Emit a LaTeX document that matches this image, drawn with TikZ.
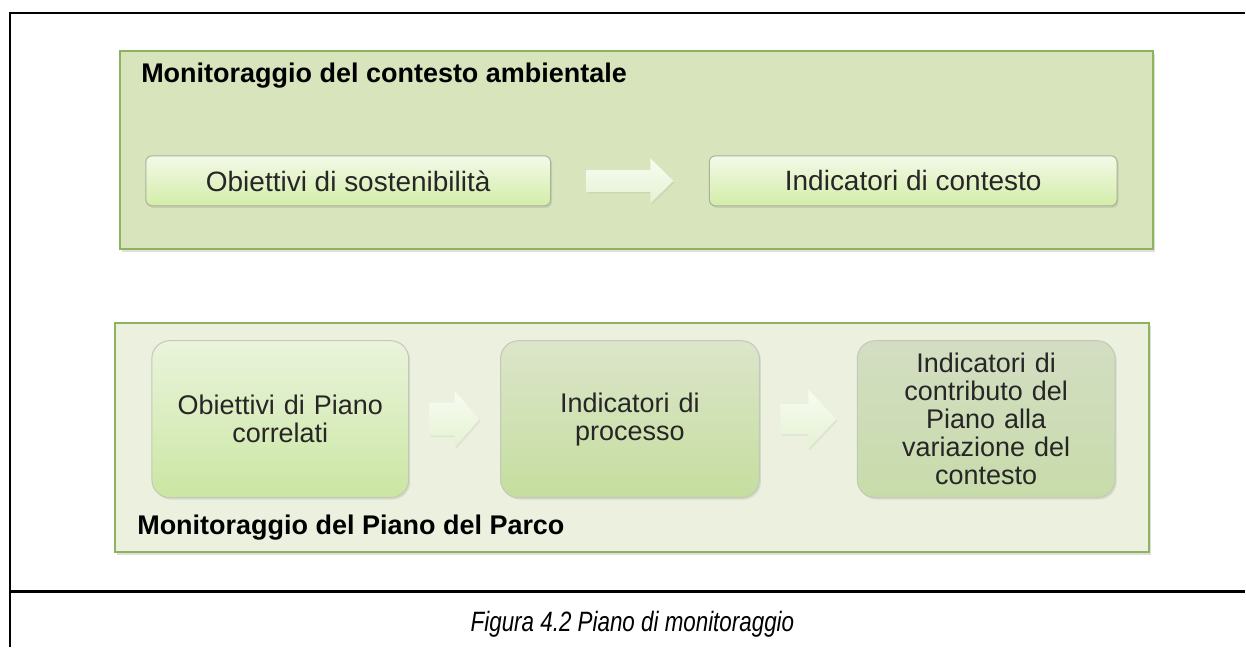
\documentclass[tikz,border=0pt]{standalone}
\usepackage{fontspec}
\setmainfont{Liberation Sans}
\newfontfamily\legende[FakeStretch=0.8]{Liberation Sans}
\usepackage{tikz}
\usetikzlibrary{shadows,calc}

\definecolor{vertA}{HTML}{D8E4BC}
\definecolor{vertB}{HTML}{EBF1DE}
\definecolor{bordvert}{HTML}{8DB35F}
\definecolor{bordgris}{HTML}{A9B29A}
\definecolor{texte}{HTML}{262626}
\definecolor{hautA}{HTML}{F3F9E8}\definecolor{basA}{HTML}{D3EDA8}
\definecolor{hautB}{HTML}{EAF4DC}\definecolor{basB}{HTML}{CBE6A2}
\definecolor{hautC}{HTML}{DCE5CA}\definecolor{basC}{HTML}{C5DE9E}
\definecolor{hautD}{HTML}{D3DDC3}\definecolor{basD}{HTML}{C8DCAA}
\definecolor{hautF}{HTML}{F8FCF2}\definecolor{basF}{HTML}{E4F2D2}

% fleche pleine : #1 centre, #2 longueur, #3 epaisseur, #4 largeur tete, #5 longueur tete
\newcommand{\flechebloc}[5]{%
  \shade[fleche] ([shift={(-#2/2,-#3/2)}]#1) -- ++(#2-#5,0) -- ++(0,#3/2-#4/2)
    -- ++(#5,#4/2) -- ++(-#5,#4/2) -- ++(0,#3/2-#4/2) -- ++(-#2+#5,0) -- cycle;}

\begin{document}
\begin{tikzpicture}[x=0.5pt,y=-0.5pt]
    % Styles
    \tikzstyle{trait}=[line width=1.1pt]
    \tikzstyle{cadre}=[draw=bordvert,line width=1pt,drop shadow={opacity=0.25,shadow xshift=1pt,shadow yshift=-1.5pt}]
    \tikzstyle{boite}=[draw=bordgris,line width=0.5pt,rounded corners=3pt,align=center,text=texte,
        font=\fontsize{14}{16}\selectfont,top color=hautA,bottom color=basA,
        drop shadow={opacity=0.2,shadow xshift=0.8pt,shadow yshift=-1pt}]
    \tikzstyle{bloc}=[boite,draw=bordgris!70!white,rounded corners=9pt,text width=120pt,font=\fontsize{13.5}{14}\selectfont]
    \tikzstyle{fleche}=[top color=hautF,bottom color=basF,drop shadow={opacity=0.12,shadow xshift=0.6pt,shadow yshift=-0.8pt}]
    \tikzstyle{titre}=[anchor=west,inner sep=0pt,font=\bfseries\fontsize{13.5}{16}\selectfont]
    % Dimensions
    \def\px{0.5pt}
    % Tableau
    \draw[trait] (10,648) -- (10,13) -- (1246,13);
    \draw[trait] (10,592) -- (1246,592);
    % Cadres
    \node[cadre,fill=vertA,minimum width=1034*\px,minimum height=198*\px] (contexte) at (637,150) {};
    \node[cadre,fill=vertB,minimum width=1035*\px,minimum height=229*\px] (piano) at (632.5,437.5) {};
    \node[titre] (tcontexte) at (141,76) {Monitoraggio del contesto ambientale};
    \node[titre] (tpiano) at (137,528) {Monitoraggio del Piano del Parco};
    % Noeuds
    \node[boite,minimum width=405*\px,minimum height=50*\px] (obs) at (348.5,181) {Obiettivi di sostenibilità};
    \node[boite,minimum width=408*\px,minimum height=50*\px] (ind) at (914,181) {Indicatori di contesto};
    \node[bloc,minimum width=257*\px,minimum height=157*\px,top color=hautB,bottom color=basB] (obp) at (280.5,419.5) {Obiettivi di Piano\\correlati};
    \node[bloc,minimum width=259*\px,minimum height=157*\px,top color=hautC,bottom color=basC] (proc) at (630.5,419.5) {Indicatori di\\processo};
    \node[bloc,minimum width=258*\px,minimum height=157*\px,top color=hautD,bottom color=basD] (contr) at (987,419.5) {Indicatori di\\contributo del\\Piano alla\\variazione del\\contesto};
    % Fleches
    \coordinate (m1) at ($(obs.east)!0.5!(ind.west)$);
    \coordinate (m2) at ($(obp.east)!0.5!(proc.west)$);
    \coordinate (m3) at ($(proc.east)!0.5!(contr.west)$);
    \flechebloc{m1}{87}{22}{45}{23}
    \flechebloc{m2}{50}{33}{57}{25}
    \flechebloc{m3}{56}{30}{60}{28}
    % Legende
    \node[font=\legende\itshape\fontsize{14}{16}\selectfont] (leg) at (633,625) {Figura 4.2 Piano di monitoraggio};
    \useasboundingbox (0,0) rectangle (1246,648);
\end{tikzpicture}
\end{document}
